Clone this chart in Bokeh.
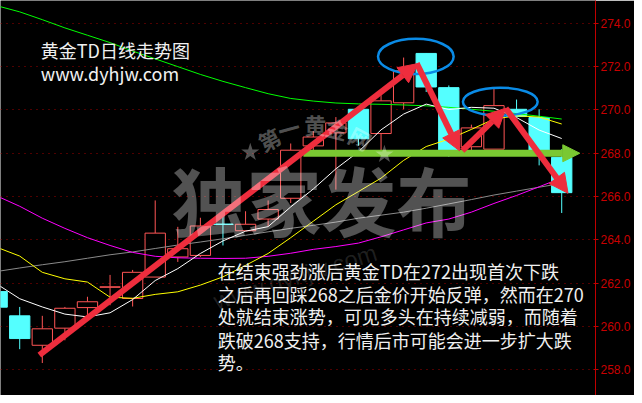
from bokeh.plotting import figure
from bokeh.models import Range1d, FixedTicker, NumeralTickFormatter, Label, Arrow, NormalHead
from bokeh.embed import file_html
from bokeh.resources import INLINE

# ---------------- data ----------------
idx = list(range(26))
opens  = [261.61, 260.49, 259.13, 259.92, 260.87, 261.81, 261.29, 262.28, 263.21, 263.28,
          264.73, 264.42, 264.96, 265.92, 268.34, 268.94, 270.03, 268.91, 270.33, 272.61,
          271.03, 268.30, 268.19, 270.03, 269.65, 267.81]
highs  = [261.75, 260.90, 260.49, 260.90, 261.37, 262.38, 262.61, 265.82, 264.60, 265.02,
          265.14, 265.32, 265.82, 268.45, 269.02, 269.67, 270.03, 270.68, 272.42, 272.61,
          271.13, 269.32, 270.98, 270.48, 270.03, 268.19]
lows   = [260.70, 258.95, 258.31, 259.36, 260.49, 260.98, 260.92, 262.28, 262.98, 263.21,
          263.74, 264.42, 264.64, 265.70, 268.12, 266.32, 268.35, 268.12, 270.03, 270.83,
          267.84, 268.12, 268.19, 269.70, 267.44, 265.24]
closes = [260.89, 259.44, 259.89, 260.84, 261.14, 261.83, 262.50, 264.31, 263.59, 264.64,
          264.71, 264.72, 265.40, 268.14, 268.75, 269.40, 268.67, 270.42, 271.81, 271.06,
          268.14, 269.17, 270.20, 269.70, 268.14, 266.18]

ma_white   = [261.95, 261.28, 260.90, 260.57, 260.44, 260.63, 261.24, 262.12, 262.67, 263.37,
              263.95, 264.40, 264.61, 265.52, 266.35, 267.28, 268.07, 269.08, 269.81, 270.27,
              270.02, 270.12, 270.08, 269.65, 269.07, 268.68]
ma_yellow  = [263.65, 263.25, 262.50, 262.20, 262.05, 261.35, 261.30, 261.48, 261.60, 261.91,
              262.29, 262.82, 263.37, 264.10, 264.86, 265.62, 266.23, 266.85, 267.67, 268.31,
              268.65, 269.10, 269.58, 269.73, 269.67, 269.35]
ma_magenta = [266.02, 265.55, 265.00, 264.53, 264.10, 263.74, 263.42, 263.24, 263.17, 263.15,
              263.14, 263.15, 263.24, 263.38, 263.56, 263.69, 263.85, 264.14, 264.46, 264.78,
              264.96, 265.28, 265.68, 266.05, 266.45, 266.86]
ma_gray    = [262.54, 262.70, 262.85, 262.99, 263.15, 263.31, 263.44, 263.60, 263.76, 263.90,
              264.05, 264.21, 264.37, 264.53, 264.67, 264.82, 265.00, 265.14, 265.28, 265.46,
              265.66, 265.86, 266.07, 266.25, 266.43, 266.61]
ma_green   = [274.81, 274.53, 274.17, 273.79, 273.45, 273.11, 272.72, 272.36, 272.00, 271.64,
              271.32, 271.03, 270.75, 270.53, 270.41, 270.32, 270.28, 270.26, 270.23, 270.19,
              270.12, 270.03, 269.94, 269.83, 269.71, 269.58]

y_ticks = [258, 260, 262, 264, 266, 268, 270, 272, 274]

# annotation anchors in data space (candle index, price)
red_arrow_x0 = [1.87, 18.58, 20.60, 22.52]
red_arrow_y0 = [258.68, 272.15, 268.12, 270.08]
red_arrow_x1 = [18.63, 20.48, 22.52, 25.28]
red_arrow_y1 = [272.14, 268.11, 270.08, 266.15]
support_x = [13.56, 25.80]
support_level = 268.0
ring_x = [18.54, 22.28]
ring_y = [272.47, 270.38]
ring_w = [3.35, 3.31]
ring_h = [1.63, 1.30]

title_lines = ["黄金TD日线走势图", "www.dyhjw.com"]
title_y = [272.79, 271.70]
note_lines = ["在结束强劲涨后黄金TD在272出现首次下跌",
              "之后再回踩268之后金价开始反弹，然而在270",
              "处就结束涨势，可见多头在持续减弱，而随着",
              "跌破268支持，行情后市可能会进一步扩大跌",
              "势。"]
note_y = [262.56, 261.50, 260.46, 259.39, 258.35]
wm_chars = ["第", "一", "黄", "金", "网"]
wm_x = [12.04, 12.91, 14.09, 15.06, 16.10]
wm_y = [268.67, 269.17, 269.35, 269.17, 268.72]
wm_angle = [0.47, 0.27, 0.0, -0.25, -0.48]
star_x = [11.21, 17.15]
star_y = [268.04, 267.95]

RED = "#ff5555"
CYAN = "#54ffff"
ARROW_RED = "#ee2d3d"
GREEN_ARROW = "#7ac832"
BLUE = "#0a8be6"
FONT = "Noto Sans CJK SC"

p = figure(frame_width=595, frame_height=395, output_backend="svg", toolbar_location=None,
           x_range=Range1d(0.149, 26.496), y_range=Range1d(256.81, 275.055),
           x_axis_location=None, y_axis_location="right",
           min_border_left=0, min_border_top=0, min_border_bottom=0, min_border_right=39,
           background_fill_color="black", border_fill_color="black", outline_line_color=None)

ax = p.yaxis[0]
ax.ticker = FixedTicker(ticks=y_ticks)
ax.formatter = NumeralTickFormatter(format="0.0")
ax.axis_line_color = "#c00000"
ax.major_tick_line_color = "#c00000"
ax.major_tick_in = 2
ax.major_tick_out = 3
ax.minor_tick_line_color = None
ax.major_label_text_color = "#c80000"
ax.major_label_text_font = "Liberation Sans"
ax.major_label_text_font_size = "12px"
ax.major_label_standoff = 2
p.ygrid.grid_line_color = "#a00000"
p.ygrid.grid_line_dash = "1 5"
p.ygrid.grid_line_width = 1
p.xgrid.visible = False

# candles
up = [i for i in idx if closes[i] >= opens[i]]
dn = [i for i in idx if closes[i] < opens[i]]

p.segment(x0=up, x1=up, y0=[highs[i] for i in up], y1=[closes[i] for i in up], line_color=RED, line_width=1)
p.segment(x0=up, x1=up, y0=[opens[i] for i in up], y1=[lows[i] for i in up], line_color=RED, line_width=1)
p.vbar(x=up, width=0.9, top=[closes[i] for i in up], bottom=[opens[i] for i in up],
       fill_color="black", line_color=RED, line_width=1)

p.segment(x0=dn, x1=dn, y0=[highs[i] for i in dn], y1=[lows[i] for i in dn], line_color=CYAN, line_width=1)
p.vbar(x=dn, width=0.9, top=[opens[i] for i in dn], bottom=[closes[i] for i in dn],
       fill_color=CYAN, line_color=CYAN, line_width=1)

# moving averages
p.line(idx, ma_gray, line_color="#8a8a8a", line_width=1)
p.line(idx, ma_magenta, line_color="#ff00ff", line_width=1)
p.line(idx, ma_green, line_color="#00ff00", line_width=1)
p.line(idx, ma_yellow, line_color="#ffff00", line_width=1)
p.line(idx, ma_white, line_color="#ffffff", line_width=1)

# rings
p.ellipse(x=ring_x, y=ring_y, width=ring_w, height=ring_h, fill_color=None,
          line_color=BLUE, line_width=2.5)

# support arrow
p.add_layout(Arrow(end=NormalHead(size=17, fill_color=GREEN_ARROW, line_color=GREEN_ARROW),
                   x_start=support_x[0], y_start=support_level, x_end=support_x[1], y_end=support_level,
                   line_color=GREEN_ARROW, line_width=7))
# trend arrows
for xa, ya, xb, yb in zip(red_arrow_x0, red_arrow_y0, red_arrow_x1, red_arrow_y1):
    p.add_layout(Arrow(end=NormalHead(size=19, fill_color=ARROW_RED, line_color=ARROW_RED),
                       x_start=xa, y_start=ya, x_end=xb, y_end=yb,
                       line_color=ARROW_RED, line_width=6))

# watermark
p.add_layout(Label(x=13.2, y=262.3, text="www.dyhjw.com", angle=0.3, text_align="center",
                   text_baseline="middle", text_font="Liberation Sans", text_font_size="24px",
                   text_color="white", text_alpha=0.13, level="overlay"))
p.add_layout(Label(x=14.36, y=265.91, text="独家发布", text_align="center", text_baseline="middle",
                   text_font=FONT, text_font_size="75px", text_font_style="bold",
                   text_color="white", text_alpha=0.32, level="overlay"))
for ch, xx, yy, aa in zip(wm_chars, wm_x, wm_y, wm_angle):
    p.add_layout(Label(x=xx, y=yy, text=ch, angle=aa, text_align="center", text_baseline="middle",
                       text_font=FONT, text_font_size="22px", text_font_style="bold",
                       text_color="white", text_alpha=0.32, level="overlay"))
p.scatter(star_x, star_y, marker="star", size=19, fill_color="white", fill_alpha=0.32,
          line_color=None, level="overlay")

# titles and note
for t, yy in zip(title_lines, title_y):
    p.add_layout(Label(x=1.93, y=yy, text=t, text_align="left", text_baseline="middle",
                       text_font=FONT, text_font_size="18px", text_color="#f0f0f0", level="overlay"))
for t, yy in zip(note_lines, note_y):
    p.add_layout(Label(x=9.77, y=yy, text=t, text_align="left", text_baseline="middle",
                       text_font=FONT, text_font_size="18px", text_color="#f0f0f0", level="overlay"))

open("out.html", "w").write(file_html(p, INLINE))
